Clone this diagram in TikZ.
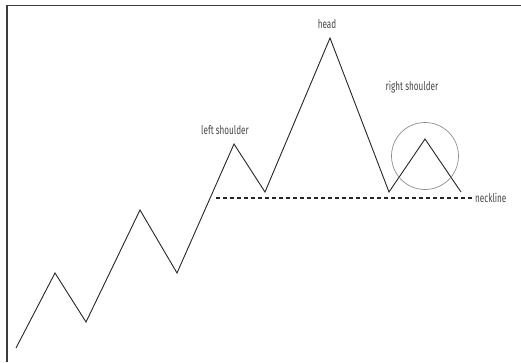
\documentclass[tikz,border=0pt]{standalone}
\usepackage{fontspec}
\setmainfont[FakeStretch=0.68]{Fira Sans}
\usepackage{tikz}
\usetikzlibrary{positioning}
\definecolor{framegray}{RGB}{60, 60, 60}
\definecolor{labelgray}{RGB}{70, 70, 70}
\definecolor{ringgray}{RGB}{140, 140, 140}

\begin{document}
\begin{tikzpicture}[
					x=1pt, y=-1pt,
					lbl/.style={font=\fontsize{12}{14}\selectfont, text=labelgray, inner sep=1pt},
					price/.style={line width=0.9pt, black!85, line join=miter},
					neck/.style={line width=1.2pt, black!85, dash pattern=on 4pt off 3pt},
					ring/.style={draw=ringgray, line width=0.7pt, circle, minimum size=67pt, inner sep=0pt}
					]
					\useasboundingbox (0,0) rectangle (521,362);
					% frame (left and top edges only)
					\draw[framegray, line width=1.2pt] (7,362) -- (7,5.5) -- (521,5.5);
					
					% price swings
					\coordinate (p0)  at (16,348);
					\coordinate (p1)  at (55,273);
					\coordinate (p2)  at (86,322);
					\coordinate (p3)  at (140,210);
					\coordinate (p4)  at (177,273);
					\coordinate (ls)  at (234,144);
					\coordinate (t1)  at (265,192);
					\coordinate (hd)  at (330,38);
					\coordinate (t2)  at (389,192);
					\coordinate (rs)  at (425,139);
					\coordinate (end) at (461,192);
					\draw[price] (p0) -- (p1) -- (p2) -- (p3) -- (p4) -- (ls) -- (t1)
					             -- (hd) -- (t2) -- (rs) -- (end);
					
					% neckline
					\coordinate (nl0) at (216,198);
					\coordinate (nl1) at (474,198);
					\draw[neck] (nl0) -- (nl1);
					\node[lbl, anchor=west] (necklbl) at (nl1) {neckline};
					
					% labels
					\node[lbl] (headlbl) at (327,24) {head};
					\node[lbl] (lslbl)   at (225,130) {left shoulder};
					\node[lbl] (rslbl)   at (412,87) {right shoulder};
					\node[ring] (rsring) at (425,156) {};
				\end{tikzpicture}
\end{document}
